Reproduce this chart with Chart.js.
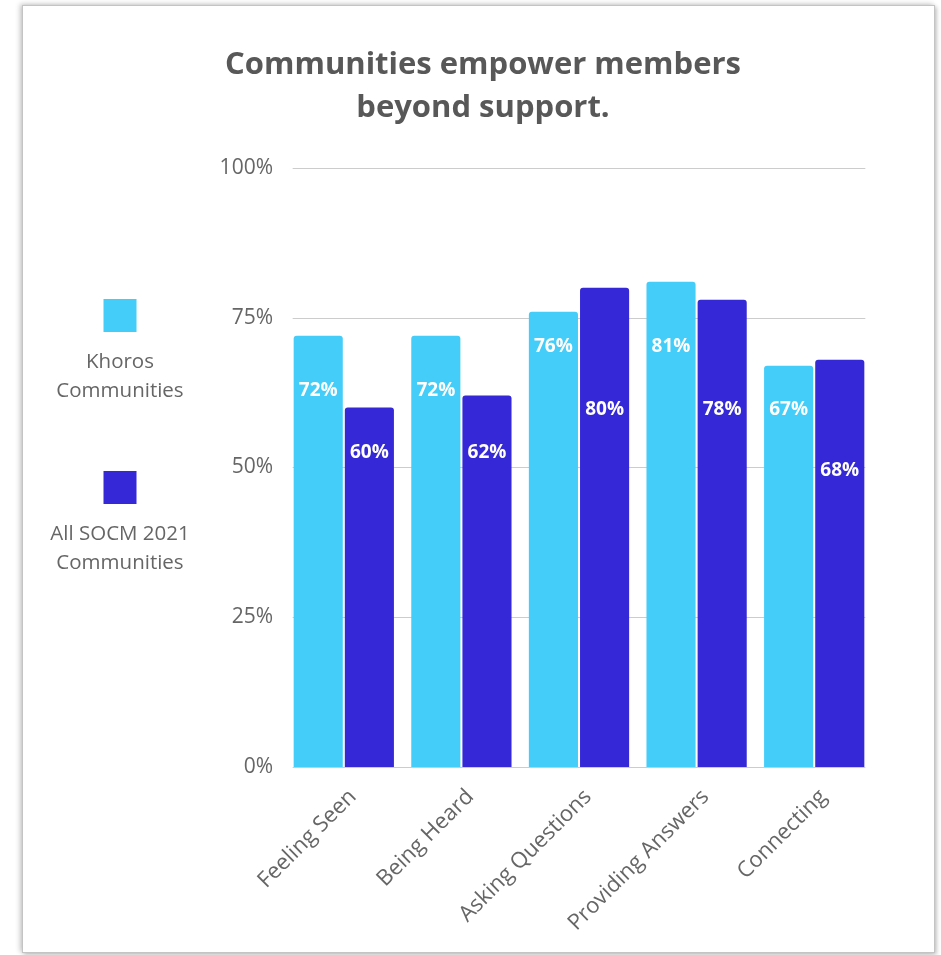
<!DOCTYPE html>
<html>
<head>
<meta charset="utf-8">
<title>Communities empower members beyond support.</title>
<script src="https://cdn.jsdelivr.net/npm/chart.js@4.4.0/dist/chart.umd.min.js"></script>
<style>
  html, body { margin: 0; padding: 0; background: #fff; }
  .card {
    position: absolute; left: 22px; top: 5px;
    width: 911px; height: 946px;
    border: 1px solid #c4c4c4;
    box-shadow: -2px -1px 5px rgba(0, 0, 0, 0.22), 2px 2px 4px rgba(0, 0, 0, 0.2);
    background: #fff;
  }
  canvas { display: block; }
</style>
</head>
<body>
<div class="card"><canvas id="chart" width="911" height="946"></canvas></div>
<script>
// Data
const categories = ["Feeling Seen", "Being Heard", "Asking Questions", "Providing Answers", "Connecting"];
const khorosValues = [72, 72, 76, 81, 67];
const socmValues = [60, 62, 80, 78, 68];
const seriesNames = ["Khoros Communities", "All SOCM 2021 Communities"];
const yTicks = [0, 25, 50, 75, 100];

const colors = ["#45cdf9", "#3529d7"];
const FONT = "'Open Sans', 'DejaVu Sans', sans-serif";

// value labels sit at staggered heights inside the bars (in axis units)
const labelLevels = [
  [62.8, 62.8, 70.2, 70.2, 59.7],
  [52.5, 52.5, 59.7, 59.7, 49.4]
];

// light gridlines, only as wide as the bar groups
const gridPlugin = {
  id: "gridLines",
  beforeDatasetsDraw(chart) {
    const { ctx } = chart;
    const y = chart.scales.y;
    const first = chart.getDatasetMeta(0).data[0];
    const last = chart.getDatasetMeta(1).data[categories.length - 1];
    const x0 = first.x - first.width / 2 - 1;
    const x1 = last.x + last.width / 2 + 1;
    ctx.save();
    ctx.strokeStyle = "#cccccc";
    ctx.lineWidth = 1.2;
    yTicks.forEach(t => {
      const py = Math.round(y.getPixelForValue(t)) + 0.5;
      ctx.beginPath();
      ctx.moveTo(x0, py);
      ctx.lineTo(x1, py);
      ctx.stroke();
    });
    ctx.restore();
  }
};

// white percentage labels inside each bar
const valueLabels = {
  id: "valueLabels",
  afterDatasetsDraw(chart) {
    const { ctx } = chart;
    const y = chart.scales.y;
    ctx.save();
    ctx.font = "bold 19px " + FONT;
    ctx.fillStyle = "#ffffff";
    ctx.textAlign = "center";
    ctx.textBaseline = "middle";
    chart.data.datasets.forEach((ds, i) => {
      chart.getDatasetMeta(i).data.forEach((bar, j) => {
        ctx.fillText(ds.data[j] + "%", bar.x, y.getPixelForValue(labelLevels[i][j]));
      });
    });
    ctx.restore();
  }
};

// legend stacked on the left: swatch with wrapped name underneath
const sideLegend = {
  id: "sideLegend",
  afterDraw(chart) {
    const { ctx, chartArea } = chart;
    const cx = 97;
    const size = 33;
    ctx.save();
    ctx.font = "20.5px " + FONT;
    ctx.textAlign = "center";
    ctx.textBaseline = "middle";
    chart.data.datasets.forEach((ds, i) => {
      const top = chartArea.top + 131 + i * 172;
      ctx.fillStyle = ds.backgroundColor;
      ctx.fillRect(cx - size / 2, top, size, size);
      ctx.fillStyle = "#666666";
      wrap(ctx, ds.label, 150).forEach((line, k) => {
        ctx.fillText(line, cx, top + size + 30 + k * 29.5);
      });
    });
    ctx.restore();
  }
};

function wrap(ctx, text, maxWidth) {
  const lines = [];
  let line = "";
  text.split(" ").forEach(word => {
    const next = line ? line + " " + word : word;
    if (line && ctx.measureText(next).width > maxWidth) {
      lines.push(line);
      line = word;
    } else {
      line = next;
    }
  });
  if (line) lines.push(line);
  return lines;
}

new Chart(document.getElementById("chart"), {
  type: "bar",
  data: {
    labels: categories,
    datasets: [
      { label: seriesNames[0], data: khorosValues, backgroundColor: colors[0] },
      { label: seriesNames[1], data: socmValues, backgroundColor: colors[1] }
    ]
  },
  options: {
    responsive: false,
    animation: false,
    events: [],
    layout: { padding: { left: 70, right: 61, top: 0, bottom: 0 } },
    datasets: {
      bar: {
        categoryPercentage: 0.87,
        barPercentage: 0.96,
        borderRadius: 3,
        borderSkipped: "bottom"
      }
    },
    plugins: {
      legend: { display: false },
      tooltip: { enabled: false },
      title: {
        display: true,
        text: ["Communities empower members", "beyond support."],
        color: "#585858",
        font: { family: FONT, size: 31, weight: "bold", lineHeight: 1.387 },
        padding: { top: 37.5, bottom: 38.5 }
      }
    },
    scales: {
      x: {
        grid: { display: false },
        border: { display: false },
        afterFit: s => { s.height = 185; },
        ticks: {
          color: "#666666",
          font: { family: FONT, size: 22 },
          minRotation: 45,
          maxRotation: 45,
          labelOffset: 9,
          padding: 9
        }
      },
      y: {
        min: 0,
        max: 100,
        afterFit: s => { s.width = 192; },
        afterBuildTicks: s => { s.ticks = yTicks.map(v => ({ value: v })); },
        grid: { display: false },
        border: { display: false },
        ticks: {
          color: "#666666",
          font: { family: FONT, size: 21 },
          padding: 4,
          callback: v => v + "%"
        }
      }
    }
  },
  plugins: [gridPlugin, valueLabels, sideLegend]
});
</script>
</body>
</html>
